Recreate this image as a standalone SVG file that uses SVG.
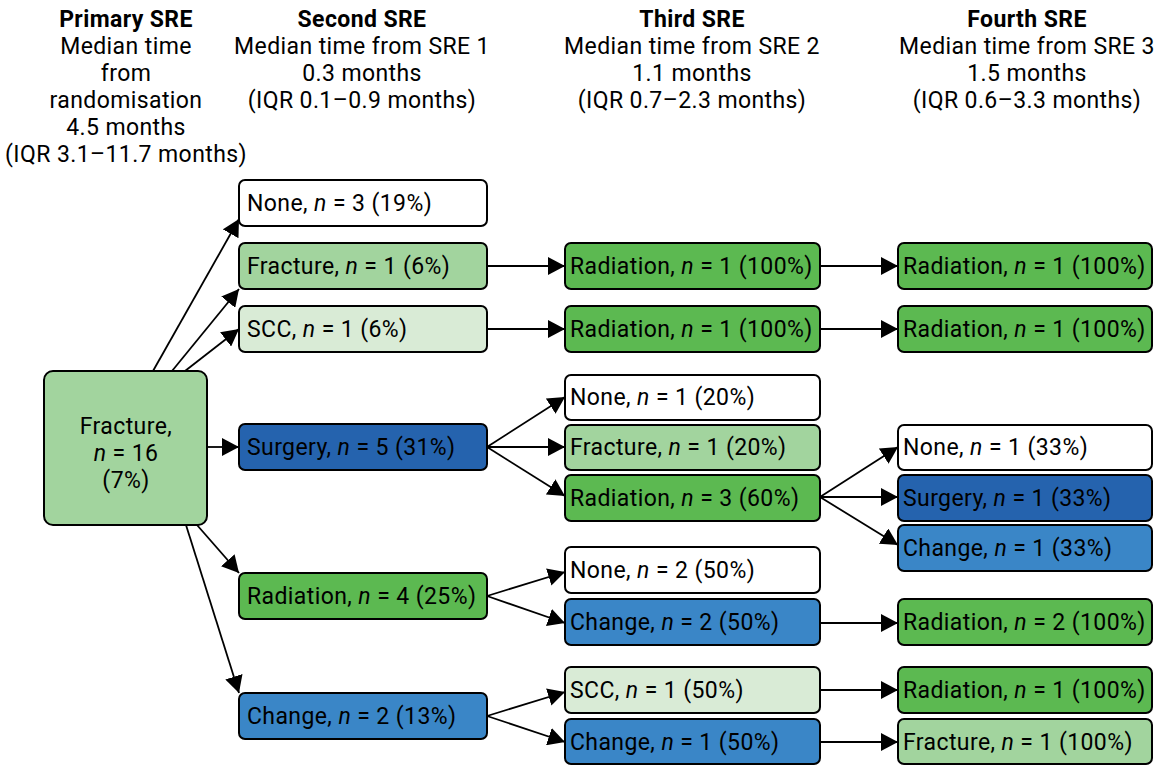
<svg xmlns="http://www.w3.org/2000/svg" width="1165" height="765" viewBox="0 0 1165 765">
<defs>
<marker id="ah" markerUnits="userSpaceOnUse" markerWidth="18" markerHeight="18" refX="17" refY="9" orient="auto">
<path d="M0,0 L17,9 L0,18 z" fill="#000"/>
</marker>
<style>
text{font-family:Roboto,"Liberation Sans",sans-serif;font-size:23px;letter-spacing:0.4px;fill:#000}
.h{text-anchor:middle}
.b{font-weight:bold}
.box{stroke:#000;stroke-width:2}
.none{fill:#fff}
.frac{fill:#a2d49e}
.scc{fill:#d9ebd6}
.rad{fill:#5cb951}
.surg{fill:#2563ae}
.chg{fill:#3a86c7}
.con line{stroke:#000;stroke-width:1.8;marker-end:url(#ah)}
</style>
</defs>
<rect width="1165" height="765" fill="#fff"/>
<g id="headers">
<text class="h b" x="126" y="27">Primary SRE</text>
<text class="h" x="126" y="54">Median time</text>
<text class="h" x="126" y="81">from</text>
<text class="h" x="126" y="108">randomisation</text>
<text class="h" x="126" y="135">4.5 months</text>
<text class="h" x="126" y="162">(IQR 3.1–11.7 months)</text>
<text class="h b" x="362" y="27">Second SRE</text>
<text class="h" x="362" y="54">Median time from SRE 1</text>
<text class="h" x="362" y="81">0.3 months</text>
<text class="h" x="362" y="108">(IQR 0.1–0.9 months)</text>
<text class="h b" x="692" y="27">Third SRE</text>
<text class="h" x="692" y="54">Median time from SRE 2</text>
<text class="h" x="692" y="81">1.1 months</text>
<text class="h" x="692" y="108">(IQR 0.7–2.3 months)</text>
<text class="h b" x="1027" y="27">Fourth SRE</text>
<text class="h" x="1027" y="54">Median time from SRE 3</text>
<text class="h" x="1027" y="81">1.5 months</text>
<text class="h" x="1027" y="108">(IQR 0.6–3.3 months)</text>
</g>
<g class="con" id="connectors">
<line x1="153" y1="371" x2="239" y2="219"/>
<line x1="172" y1="371" x2="239" y2="289"/>
<line x1="185" y1="371" x2="239" y2="329"/>
<line x1="207" y1="447" x2="239" y2="447"/>
<line x1="197" y1="525" x2="239" y2="573"/>
<line x1="186" y1="525" x2="239" y2="693"/>
<line x1="487" y1="266" x2="565" y2="266"/>
<line x1="487" y1="329" x2="565" y2="329"/>
<line x1="820" y1="266" x2="898" y2="266"/>
<line x1="820" y1="329" x2="898" y2="329"/>
<line x1="487" y1="447" x2="565" y2="397"/>
<line x1="487" y1="447" x2="565" y2="447"/>
<line x1="487" y1="447" x2="565" y2="496"/>
<line x1="820" y1="497" x2="898" y2="447"/>
<line x1="820" y1="497" x2="898" y2="497"/>
<line x1="820" y1="497" x2="898" y2="545"/>
<line x1="487" y1="596" x2="565" y2="572"/>
<line x1="487" y1="596" x2="565" y2="623"/>
<line x1="487" y1="716" x2="565" y2="692"/>
<line x1="487" y1="716" x2="565" y2="742"/>
<line x1="820" y1="623" x2="898" y2="623"/>
<line x1="820" y1="690" x2="898" y2="690"/>
<line x1="820" y1="742" x2="898" y2="742"/>
</g>
<g id="primary">
<rect class="box frac" x="44" y="371" width="163" height="154" rx="9"/>
<text class="h" x="126" y="434">Fracture,</text>
<text class="h" x="126" y="461"><tspan font-style="italic">n</tspan> = 16</text>
<text class="h" x="126" y="488">(7%)</text>
</g>
<g id="s2-none"><rect class="box none" x="239" y="180" width="248" height="46" rx="6"/><text x="247" y="211">None, <tspan font-style="italic">n</tspan> = 3 (19%)</text></g>
<g id="s2-fracture"><rect class="box frac" x="239" y="243" width="248" height="46" rx="6"/><text x="247" y="274">Fracture, <tspan font-style="italic">n</tspan> = 1 (6%)</text></g>
<g id="s2-scc"><rect class="box scc" x="239" y="306" width="248" height="46" rx="6"/><text x="247" y="337">SCC, <tspan font-style="italic">n</tspan> = 1 (6%)</text></g>
<g id="s2-surgery"><rect class="box surg" x="239" y="424" width="248" height="46" rx="6"/><text x="247" y="455">Surgery, <tspan font-style="italic">n</tspan> = 5 (31%)</text></g>
<g id="s2-radiation"><rect class="box rad" x="239" y="573" width="248" height="46" rx="6"/><text x="247" y="604">Radiation, <tspan font-style="italic">n</tspan> = 4 (25%)</text></g>
<g id="s2-change"><rect class="box chg" x="239" y="693" width="248" height="46" rx="6"/><text x="247" y="724">Change, <tspan font-style="italic">n</tspan> = 2 (13%)</text></g>
<g id="s3-rad-a"><rect class="box rad" x="565" y="243" width="255" height="46" rx="6"/><text x="570" y="274">Radiation, <tspan font-style="italic">n</tspan> = 1 (100%)</text></g>
<g id="s3-rad-b"><rect class="box rad" x="565" y="306" width="255" height="46" rx="6"/><text x="570" y="337">Radiation, <tspan font-style="italic">n</tspan> = 1 (100%)</text></g>
<g id="s3-none-a"><rect class="box none" x="565" y="375" width="255" height="45" rx="6"/><text x="570" y="405">None, <tspan font-style="italic">n</tspan> = 1 (20%)</text></g>
<g id="s3-fracture"><rect class="box frac" x="565" y="425" width="255" height="45" rx="6"/><text x="570" y="455">Fracture, <tspan font-style="italic">n</tspan> = 1 (20%)</text></g>
<g id="s3-radiation"><rect class="box rad" x="565" y="475" width="255" height="46" rx="6"/><text x="570" y="506">Radiation, <tspan font-style="italic">n</tspan> = 3 (60%)</text></g>
<g id="s3-none-b"><rect class="box none" x="565" y="547" width="255" height="46" rx="6"/><text x="570" y="578">None, <tspan font-style="italic">n</tspan> = 2 (50%)</text></g>
<g id="s3-change-a"><rect class="box chg" x="565" y="599" width="255" height="46" rx="6"/><text x="570" y="630">Change, <tspan font-style="italic">n</tspan> = 2 (50%)</text></g>
<g id="s3-scc"><rect class="box scc" x="565" y="667" width="255" height="46" rx="6"/><text x="570" y="698">SCC, <tspan font-style="italic">n</tspan> = 1 (50%)</text></g>
<g id="s3-change-b"><rect class="box chg" x="565" y="719" width="255" height="45" rx="6"/><text x="570" y="750">Change, <tspan font-style="italic">n</tspan> = 1 (50%)</text></g>
<g id="s4-rad-a"><rect class="box rad" x="898" y="243" width="254" height="46" rx="6"/><text x="903" y="274">Radiation, <tspan font-style="italic">n</tspan> = 1 (100%)</text></g>
<g id="s4-rad-b"><rect class="box rad" x="898" y="306" width="254" height="46" rx="6"/><text x="903" y="337">Radiation, <tspan font-style="italic">n</tspan> = 1 (100%)</text></g>
<g id="s4-none"><rect class="box none" x="898" y="425" width="254" height="45" rx="6"/><text x="903" y="455">None, <tspan font-style="italic">n</tspan> = 1 (33%)</text></g>
<g id="s4-surgery"><rect class="box surg" x="898" y="475" width="254" height="46" rx="6"/><text x="903" y="506">Surgery, <tspan font-style="italic">n</tspan> = 1 (33%)</text></g>
<g id="s4-change"><rect class="box chg" x="898" y="525" width="254" height="46" rx="6"/><text x="903" y="556">Change, <tspan font-style="italic">n</tspan> = 1 (33%)</text></g>
<g id="s4-rad-c"><rect class="box rad" x="898" y="599" width="254" height="46" rx="6"/><text x="903" y="630">Radiation, <tspan font-style="italic">n</tspan> = 2 (100%)</text></g>
<g id="s4-rad-d"><rect class="box rad" x="898" y="667" width="254" height="46" rx="6"/><text x="903" y="698">Radiation, <tspan font-style="italic">n</tspan> = 1 (100%)</text></g>
<g id="s4-fracture"><rect class="box frac" x="898" y="719" width="254" height="45" rx="6"/><text x="903" y="750">Fracture, <tspan font-style="italic">n</tspan> = 1 (100%)</text></g>
</svg>
